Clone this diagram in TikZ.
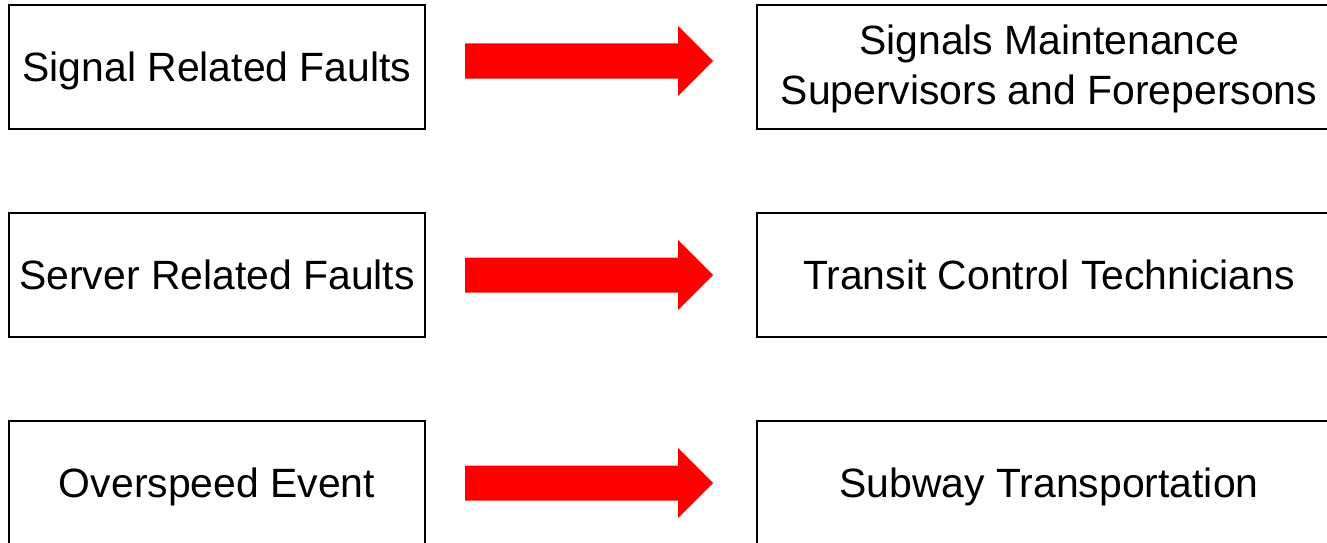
\documentclass[tikz,border=0pt]{standalone}
\usepackage{fontspec}
\setmainfont{Liberation Sans}
\begin{document}
\begin{tikzpicture}[x=1pt,y=-1pt,
  box/.style={draw=black,line width=1.6pt,fill=white,inner sep=0pt,align=center,
    font=\fontsize{40.9}{50}\selectfont,text height=29.5pt,text depth=0pt},
  leftbox/.style={box,minimum width=416pt,minimum height=124pt},
  rightbox/.style={box,minimum width=584pt,minimum height=124pt},
  bigarrow/.pic={\fill[red] (0,-17.5) -- (213,-17.5) -- (213,-35) -- (248,0) -- (213,35) -- (213,17.5) -- (0,17.5) -- cycle;}]
\useasboundingbox (0,0) rectangle (1327,543);
\begin{scope}
\clip (0,0) rectangle (1327,543);
\node[leftbox] (l1) at (217,67) {Signal Related Faults};
\node[leftbox] (l2) at (217,275) {Server Related Faults};
\node[leftbox] (l3) at (217,483) {Overspeed Event};
\node[rightbox,text height=79.5pt,text depth=4.5pt] (r1) at (1049,67) {Signals Maintenance\\Supervisors and Forepersons};
\node[rightbox] (r2) at (1049,275) {Transit Control Technicians};
\node[rightbox] (r3) at (1049,483) {Subway Transportation};
\pic at (465,61) {bigarrow};
\pic at (465,275) {bigarrow};
\pic at (465,483) {bigarrow};
\end{scope}
\end{tikzpicture}
\end{document}
